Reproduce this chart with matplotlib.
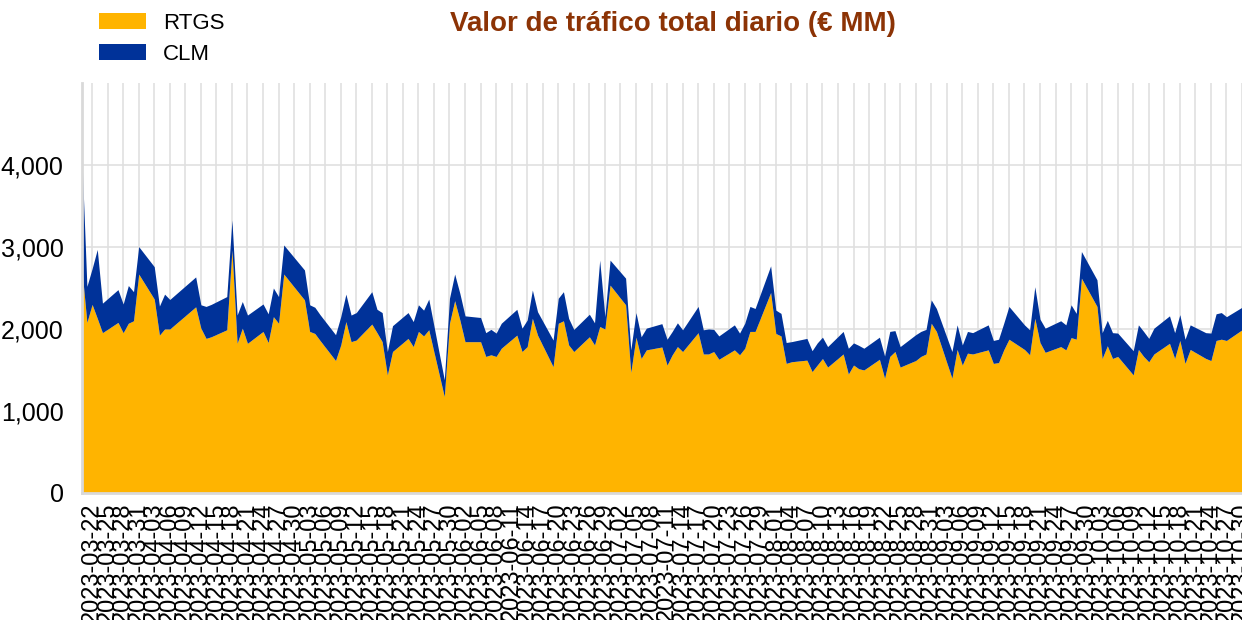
import numpy as np
import pandas as pd
import matplotlib
matplotlib.use('Agg')
import matplotlib.pyplot as plt
from matplotlib.patches import Patch

plt.rcParams['font.family'] = ['Liberation Sans', 'DejaVu Sans']

# TARGET business days (weekends and TARGET holidays excluded)
holidays = ['2023-04-07', '2023-04-10', '2023-05-01']
dates = pd.bdate_range('2023-03-20', '2023-10-30')
dates = dates[~dates.isin(pd.to_datetime(holidays))]

rtgs = [2750, 2080, 2300, 2130, 1955,
        2080, 1955, 2070, 2100, 2670,
        2365, 1925, 2000, 2000,
        2270, 2010, 1885, 1905,
        1990, 2965, 1825, 2010, 1825,
        1970, 1835, 2150, 2070, 2670,
        2355, 1970, 1945, 1860,
        1615, 1805, 2090, 1845, 1865,
        2060, 1955, 1845, 1440, 1725,
        1885, 1785, 1970, 1915, 1990,
        1175, 2070, 2345, 2110, 1845,
        1845, 1665, 1685, 1665, 1765,
        1925, 1725, 1785, 2130, 1925,
        1540, 2070, 2100, 1805, 1725,
        1905, 1805, 2030, 2000, 2535,
        2295, 1470, 1900, 1640, 1745,
        1780, 1560, 1685, 1785, 1725,
        1955, 1695, 1695, 1725, 1630,
        1745, 1685, 1765, 1970, 1970,
        2445, 1945, 1915, 1580, 1600,
        1620, 1480, 1560, 1640, 1535,
        1695, 1450, 1560, 1515, 1500,
        1630, 1400, 1665, 1725, 1535,
        1615, 1665, 1695, 2070, 1970,
        1400, 1750, 1560, 1705, 1695,
        1745, 1580, 1590, 1745, 1875,
        1750, 1685, 2130, 1835, 1715,
        1785, 1745, 1895, 1875, 2620,
        2275, 1640, 1795, 1640, 1665,
        1440, 1750, 1665, 1600, 1695,
        1825, 1640, 1860, 1580, 1750,
        1640, 1615, 1860, 1875, 1860,
        1990]

clm = [1400, 440, 435, 840, 360,
       400, 350, 460, 355, 335,
       395, 355, 425, 360,
       365, 285, 390, 395,
       405, 365, 345, 325, 345,
       335, 350, 350, 325, 355,
       365, 325, 320, 315,
       315, 345, 335, 325, 335,
       395, 285, 355, 285, 315,
       315, 305, 325, 315, 375,
       205, 305, 325, 325, 315,
       295, 290, 310, 285, 305,
       315, 285, 325, 345, 285,
       325, 305, 355, 325, 270,
       275, 270, 810, 150, 305,
       325, 275, 300, 265, 265,
       285, 315, 285, 290, 265,
       320, 295, 305, 270, 285,
       305, 265, 305, 305, 280,
       325, 285, 275, 255, 245,
       265, 255, 270, 260, 250,
       275, 315, 270, 285, 265,
       270, 270, 305, 255, 250,
       315, 305, 300, 285, 280,
       325, 300, 245, 265, 260,
       305, 280, 285, 325, 400,
       300, 305, 385, 285, 295,
       315, 305, 400, 315, 325,
       325, 315, 310, 315, 285,
       295, 300, 305, 285, 315,
       335, 315, 315, 295, 300,
       315, 335, 325, 325, 290,
       275]

rtgs = np.array(rtgs)
clm = np.array(clm)
total = rtgs + clm

c_rtgs = '#FFB400'
c_clm = '#003299'

fig = plt.figure(figsize=(12.42, 6.2), dpi=100)
ax = fig.add_axes([0.0658, 0.205, 0.9342, 0.661])

ax.fill_between(dates, 0, rtgs, color=c_rtgs, linewidth=0)
ax.fill_between(dates, rtgs, total, color=c_clm, linewidth=0)

ax.set_xlim(pd.Timestamp('2023-03-20'), pd.Timestamp('2023-10-30'))
ax.set_ylim(0, 5000)

ticks = pd.date_range('2023-03-22', '2023-10-30', freq='3D')
ax.set_xticks(ticks)
ax.set_xticklabels([t.strftime('%Y-%m-%d') for t in ticks], rotation=90, fontsize=17)
ax.set_yticks([0, 1000, 2000, 3000, 4000])
ax.set_yticklabels(['0', '1,000', '2,000', '3,000', '4,000'], fontsize=18)
ax.tick_params(axis='both', length=0)
ax.tick_params(axis='y', pad=13)
ax.tick_params(axis='x', pad=7)

ax.grid(True, color='#e0e0e0', linewidth=1.2)
ax.set_axisbelow(True)
for s in ['top', 'right']:
    ax.spines[s].set_visible(False)
for s in ['left', 'bottom']:
    ax.spines[s].set_color('#d9d9d9')
    ax.spines[s].set_linewidth(2)

fig.text(0.542, 0.962, 'Valor de tráfico total diario (€ MM)', ha='center', va='center',
         fontsize=20, fontweight='bold', color='#8c3305')

handles = [Patch(facecolor=c_rtgs, label='RTGS'), Patch(facecolor=c_clm, label='CLM')]
fig.legend(handles=handles, loc='upper left', bbox_to_anchor=(0.064, 1.012), frameon=False,
           fontsize=16, handlelength=2.1, handleheight=0.7, handletextpad=0.75, labelspacing=0.45)

fig.savefig('out.png', dpi=100)
